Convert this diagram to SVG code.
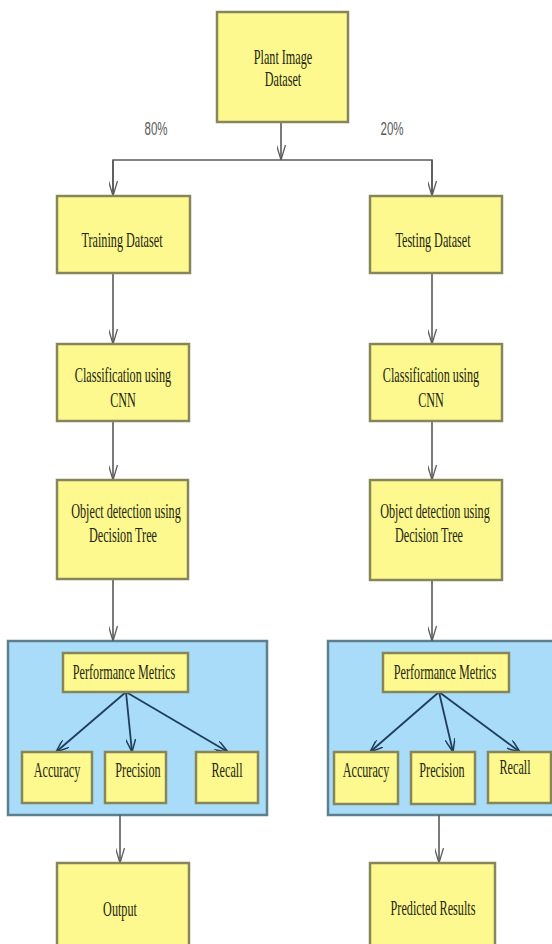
<svg xmlns="http://www.w3.org/2000/svg" width="552" height="944" viewBox="0 0 552 944">
<style>
.box{fill:#fdf98f;stroke:#86865a;stroke-width:2.5}
.cont{fill:#a8dcf8;stroke:#5f7f8c;stroke-width:2.5}
.t{font-family:"Liberation Serif","Times New Roman",serif;font-size:21px;fill:#24240f;text-anchor:middle}
.p{font-family:"Liberation Sans",Arial,sans-serif;font-size:18px;fill:#5a5a5a;text-anchor:middle}
.c{fill:none;stroke:#5a5a5a;stroke-width:1.6}
.ci{fill:none;stroke:#1f3d5a;stroke-width:1.8}
</style>
<defs>
<marker id="ah" markerUnits="userSpaceOnUse" viewBox="0 0 15 9" markerWidth="15" markerHeight="9" refX="15" refY="4.5" orient="auto">
<path d="M0,0 L15,4.5 L0,9" fill="none" stroke="#5a5a5a" stroke-width="1.3"/>
</marker>
<marker id="ahi" markerUnits="userSpaceOnUse" viewBox="0 0 13 10" markerWidth="13" markerHeight="10" refX="13" refY="5" orient="auto">
<path d="M0,0 L13,5 L0,10" fill="none" stroke="#1f3d5a" stroke-width="1.5"/>
</marker>
</defs>
<rect width="552" height="944" fill="#ffffff"/>

<g id="containers">
<rect id="perf-left" class="cont" x="8" y="641" width="259" height="174"/>
<rect id="perf-right" class="cont" x="328" y="641" width="226" height="174"/>
</g>

<g id="connectors">
<path class="c" d="M281,122 V160" marker-end="url(#ah)"/>
<path class="c" d="M113,196 V160 H432 V196"/>
<path class="c" d="M113,160 V196" marker-end="url(#ah)"/>
<path class="c" d="M432,160 V196" marker-end="url(#ah)"/>
<path class="c" d="M113,273 V344" marker-end="url(#ah)"/>
<path class="c" d="M432,273 V344" marker-end="url(#ah)"/>
<path class="c" d="M113,421 V480" marker-end="url(#ah)"/>
<path class="c" d="M432,421 V480" marker-end="url(#ah)"/>
<path class="c" d="M113,579 V641" marker-end="url(#ah)"/>
<path class="c" d="M432,580 V641" marker-end="url(#ah)"/>
<path class="c" d="M120,815 V863" marker-end="url(#ah)"/>
<path class="c" d="M439,815 V863" marker-end="url(#ah)"/>
<path class="ci" d="M126,692 L56,752" marker-end="url(#ahi)"/>
<path class="ci" d="M126,692 L132,752" marker-end="url(#ahi)"/>
<path class="ci" d="M126,692 L228,752" marker-end="url(#ahi)"/>
<path class="ci" d="M439,692 L370,752" marker-end="url(#ahi)"/>
<path class="ci" d="M439,692 L453,752" marker-end="url(#ahi)"/>
<path class="ci" d="M439,692 L520,752" marker-end="url(#ahi)"/>
</g>

<g id="labels">
<text class="p" transform="translate(156 135) scale(0.64 1)">80%</text>
<text class="p" transform="translate(392 135) scale(0.64 1)">20%</text>
</g>

<g id="plant-image-dataset">
<rect class="box" x="217" y="12" width="131" height="110"/>
<text class="t" transform="translate(283 64) scale(0.58 1)">Plant Image</text>
<text class="t" transform="translate(283 86) scale(0.58 1)">Dataset</text>
</g>

<g id="training-dataset">
<rect class="box" x="57" y="196" width="133" height="77"/>
<text class="t" transform="translate(122 247) scale(0.58 1)">Training Dataset</text>
</g>
<g id="testing-dataset">
<rect class="box" x="370" y="196" width="132" height="77"/>
<text class="t" transform="translate(433 247) scale(0.58 1)">Testing Dataset</text>
</g>

<g id="classification-left">
<rect class="box" x="57" y="344" width="132" height="77"/>
<text class="t" transform="translate(123 382) scale(0.58 1)">Classification using</text>
<text class="t" transform="translate(123 407) scale(0.58 1)">CNN</text>
</g>
<g id="classification-right">
<rect class="box" x="370" y="344" width="132" height="77"/>
<text class="t" transform="translate(431 382) scale(0.58 1)">Classification using</text>
<text class="t" transform="translate(431 407) scale(0.58 1)">CNN</text>
</g>

<g id="object-detection-left">
<rect class="box" x="57" y="480" width="131" height="99"/>
<text class="t" transform="translate(126 518) scale(0.58 1)">Object detection using</text>
<text class="t" transform="translate(123 542) scale(0.58 1)">Decision Tree</text>
</g>
<g id="object-detection-right">
<rect class="box" x="370" y="480" width="132" height="100"/>
<text class="t" transform="translate(435 518) scale(0.58 1)">Object detection using</text>
<text class="t" transform="translate(429 542) scale(0.58 1)">Decision Tree</text>
</g>

<g id="performance-metrics-left">
<rect class="box" x="63" y="653" width="125" height="39"/>
<text class="t" transform="translate(124 679) scale(0.58 1)">Performance Metrics</text>
</g>
<g id="accuracy-left">
<rect class="box" x="22" y="752" width="70" height="51"/>
<text class="t" transform="translate(57 777) scale(0.58 1)">Accuracy</text>
</g>
<g id="precision-left">
<rect class="box" x="105" y="752" width="61" height="51"/>
<text class="t" transform="translate(138 777) scale(0.58 1)">Precision</text>
</g>
<g id="recall-left">
<rect class="box" x="196" y="752" width="62" height="51"/>
<text class="t" transform="translate(227 777) scale(0.58 1)">Recall</text>
</g>

<g id="performance-metrics-right">
<rect class="box" x="383" y="653" width="126" height="39"/>
<text class="t" transform="translate(445 679) scale(0.58 1)">Performance Metrics</text>
</g>
<g id="accuracy-right">
<rect class="box" x="334" y="752" width="64" height="52"/>
<text class="t" transform="translate(366 777) scale(0.58 1)">Accuracy</text>
</g>
<g id="precision-right">
<rect class="box" x="411" y="752" width="64" height="52"/>
<text class="t" transform="translate(442 777) scale(0.58 1)">Precision</text>
</g>
<g id="recall-right">
<rect class="box" x="488" y="752" width="63" height="51"/>
<text class="t" transform="translate(515 774) scale(0.58 1)">Recall</text>
</g>

<g id="output">
<rect class="box" x="57" y="863" width="132" height="90"/>
<text class="t" transform="translate(120 916) scale(0.58 1)">Output</text>
</g>
<g id="predicted-results">
<rect class="box" x="370" y="863" width="125" height="90"/>
<text class="t" transform="translate(433 915) scale(0.58 1)">Predicted Results</text>
</g>
</svg>
